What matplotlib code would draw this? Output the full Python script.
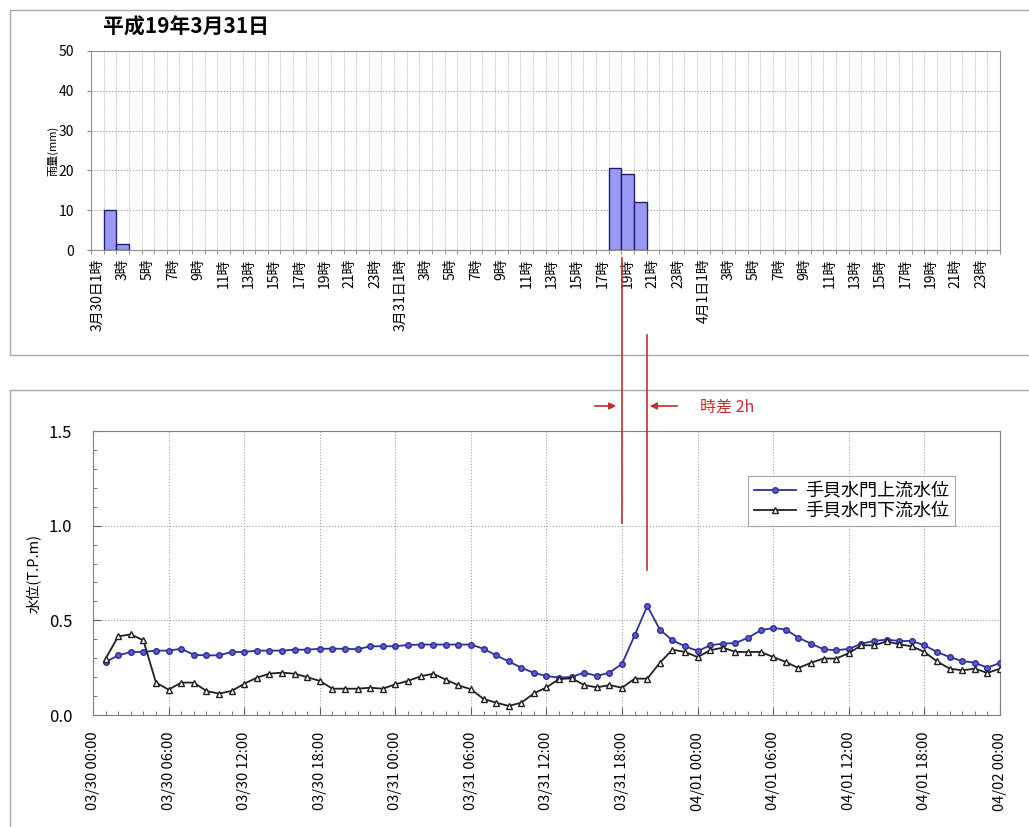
import numpy as np
import pandas as pd
import matplotlib
matplotlib.use('Agg')
import matplotlib.pyplot as plt
import matplotlib.dates as mdates
from matplotlib.lines import Line2D
from matplotlib.patches import Rectangle, FancyArrowPatch
from matplotlib.transforms import blended_transform_factory

plt.rcParams['font.family'] = ['Noto Sans CJK JP', 'DejaVu Sans']

# hourly rainfall, 3/30 1時 .. 4/1 24時 (72 hours); only non-zero hours listed
rain_hour_idx = [1, 2, 41, 42, 43]
rain_mm = [10.0, 1.5, 20.5, 19.0, 12.0]
day_names = ['3月30日', '3月31日', '4月1日']

# water level, hourly from 03/30 01:00 to 04/02 00:00
upstream = [0.28, 0.315, 0.333, 0.333, 0.34, 0.34, 0.35, 0.318, 0.315, 0.315,
            0.333, 0.333, 0.34, 0.34, 0.34, 0.345, 0.345, 0.35, 0.35, 0.35,
            0.347, 0.363, 0.363, 0.363, 0.37, 0.372, 0.372, 0.372, 0.372, 0.372,
            0.35, 0.315, 0.283, 0.25, 0.222, 0.206, 0.197, 0.201, 0.224, 0.206,
            0.224, 0.271, 0.421, 0.576, 0.451, 0.394, 0.363, 0.338, 0.368, 0.377,
            0.38, 0.408, 0.447, 0.46, 0.451, 0.408, 0.377, 0.347, 0.342, 0.349,
            0.377, 0.391, 0.398, 0.391, 0.391, 0.368, 0.333, 0.306, 0.285, 0.276,
            0.25, 0.275]
downstream = [0.298, 0.415, 0.426, 0.394, 0.171, 0.134, 0.171, 0.171, 0.127, 0.113,
              0.127, 0.165, 0.197, 0.218, 0.224, 0.218, 0.2, 0.18, 0.139, 0.139,
              0.139, 0.144, 0.139, 0.162, 0.18, 0.204, 0.218, 0.187, 0.157, 0.136,
              0.085, 0.065, 0.048, 0.065, 0.114, 0.146, 0.19, 0.194, 0.158, 0.146,
              0.158, 0.144, 0.192, 0.192, 0.276, 0.345, 0.333, 0.306, 0.342, 0.356,
              0.333, 0.333, 0.333, 0.306, 0.28, 0.248, 0.276, 0.298, 0.298, 0.327,
              0.368, 0.368, 0.389, 0.373, 0.363, 0.333, 0.283, 0.245, 0.236, 0.245,
              0.222, 0.245]
times = pd.date_range('2007-03-30 01:00', periods=72, freq='h')

W, H = 1029, 827
fig = plt.figure(figsize=(W / 100, H / 100), dpi=100)

def fx(px):
    return px / W

def fy(py):
    return 1 - py / H

red = '#c0302c'
frame = '#a8a8a8'

# outer frames of both charts
fig.add_artist(Rectangle((fx(10), fy(355)), fx(1040) - fx(10), fy(10) - fy(355),
                         transform=fig.transFigure, fill=False, ec=frame, lw=1))
fig.add_artist(Rectangle((fx(10), fy(860)), fx(1040) - fx(10), fy(390) - fy(860),
                         transform=fig.transFigure, fill=False, ec=frame, lw=1))

# ---- rainfall bars ----
ax1 = fig.add_axes([fx(91), fy(250), fx(1000) - fx(91), fy(51) - fy(250)])
ax1.bar(rain_hour_idx, rain_mm, width=1.0, color='#9a9af5', edgecolor='#202070', lw=1, zorder=3)
ax1.set_xlim(-0.5, 71.5)
ax1.set_ylim(0, 50)
ax1.set_yticks(range(0, 51, 10))
ax1.set_xticks(np.arange(-0.5, 72, 1), minor=True)
labels = []
ticks = np.arange(0, 72, 2)
for i in ticks:
    h = i % 24 + 1
    if h == 1:
        labels.append(f'{day_names[i // 24]}{h}時')
    else:
        labels.append(f'{h}時')
ax1.set_xticks(ticks)
ax1.set_xticklabels(labels, rotation=90, fontsize=10, va='top')
ax1.tick_params(axis='x', which='major', length=0, pad=6)
ax1.tick_params(axis='x', which='minor', length=3, color='#808080')
ax1.tick_params(axis='y', labelsize=10, length=3, color='#808080', pad=9)
ax1.grid(axis='y', which='major', color='#9a9a9a', ls=':', lw=0.8)
ax1.grid(axis='x', which='minor', color='#b0b0b0', ls=(0, (1, 1)), lw=0.6)
for s in ax1.spines.values():
    s.set_color('#909090')
ax1.set_ylabel('雨量(mm)', fontsize=8)
ax1.yaxis.set_label_coords(-0.036, 0.5)
fig.text(fx(103), fy(27), '平成19年3月31日', fontsize=15, fontweight='bold', va='center')

# ---- water level ----
ax2 = fig.add_axes([fx(93), fy(715), fx(1000) - fx(93), fy(431) - fy(715)])
ax2.plot(times, upstream, color='#2e2e9a', marker='o', ms=4, mfc='#5c5cc8', mec='#2e2e9a',
         lw=1.3, label='手貝水門上流水位', zorder=3)
ax2.plot(times, downstream, color='#202020', marker='^', ms=5, mfc='white', mec='#202020',
         lw=1.3, label='手貝水門下流水位', zorder=3)
ax2.set_xlim(pd.Timestamp('2007-03-30 00:00'), pd.Timestamp('2007-04-02 00:00'))
ax2.set_ylim(0, 1.5)
ax2.set_yticks([0.0, 0.5, 1.0, 1.5])
ax2.set_yticklabels(['0.0', '0.5', '1.0', '1.5'])
ax2.set_yticks(np.arange(0, 1.51, 0.1), minor=True)
ax2.xaxis.set_major_locator(mdates.HourLocator(byhour=[0, 6, 12, 18]))
ax2.xaxis.set_minor_locator(mdates.HourLocator())
ax2.xaxis.set_major_formatter(mdates.DateFormatter('%m/%d %H:%M'))
plt.setp(ax2.get_xticklabels(), rotation=90, fontsize=10.5, ha='center')
ax2.tick_params(axis='x', which='major', direction='in', length=6, pad=12, color='#606060')
ax2.tick_params(axis='x', which='minor', direction='in', length=3, color='#606060')
ax2.tick_params(axis='y', which='major', direction='in', length=6, labelsize=12, pad=15, color='#606060')
ax2.tick_params(axis='y', which='minor', direction='in', length=3, color='#606060')
ax2.grid(which='major', color='#a0a0a0', ls=':', lw=0.8)
for s in ax2.spines.values():
    s.set_color('#808080')
ax2.set_ylabel('水位(T.P.m)', fontsize=10.5)
ax2.yaxis.set_label_coords(-0.058, 0.5)
leg = ax2.legend(loc='upper left', bbox_to_anchor=(fx(748), fy(476)),
                 bbox_transform=fig.transFigure, fontsize=13, frameon=True, fancybox=False,
                 edgecolor='#909090', borderpad=0.35, labelspacing=0.1,
                 handlelength=2.3, handletextpad=0.5, borderaxespad=0)
leg.get_frame().set_linewidth(0.8)

# time lag markers between rainfall peak and water level peak
blend = blended_transform_factory(ax2.transData, fig.transFigure)
t_rain = mdates.date2num(pd.Timestamp('2007-03-31 18:00'))
t_peak = mdates.date2num(pd.Timestamp('2007-03-31 20:00'))
fig.add_artist(Line2D([t_rain, t_rain], [fy(258), fy(523)], transform=blend, color=red, lw=1.2))
fig.add_artist(Line2D([t_peak, t_peak], [fy(335), fy(570)], transform=blend, color=red, lw=1.2))
fig.add_artist(FancyArrowPatch((fx(592), fy(406)), (fx(619), fy(406)), transform=fig.transFigure,
                               arrowstyle='-|>', mutation_scale=10, color=red, lw=1.2))
fig.add_artist(FancyArrowPatch((fx(680), fy(406)), (fx(647), fy(406)), transform=fig.transFigure,
                               arrowstyle='-|>', mutation_scale=10, color=red, lw=1.2))
fig.text(fx(700), fy(407), '時差 2h', color=red, fontsize=11.5, va='center')

fig.savefig('out.png', dpi=100)
